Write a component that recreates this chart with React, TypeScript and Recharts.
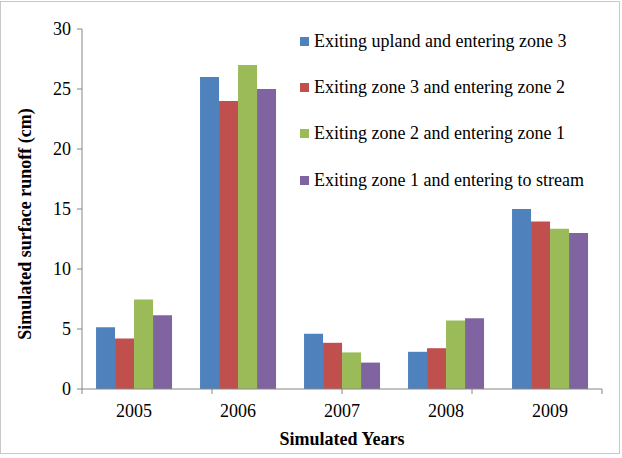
import React from 'react';
import { Bar, BarChart, XAxis, YAxis } from 'recharts';

const YEARS = ['2005', '2006', '2007', '2008', '2009'];
const UPLAND_TO_ZONE3 = [5.15, 26, 4.6, 3.1, 15];
const ZONE3_TO_ZONE2 = [4.2, 24, 3.85, 3.4, 13.95];
const ZONE2_TO_ZONE1 = [7.45, 27, 3.05, 5.7, 13.35];
const ZONE1_TO_STREAM = [6.15, 25, 2.2, 5.9, 13];
const Y_TICKS = [0, 5, 10, 15, 20, 25, 30];
const BOUNDARY_TICKS = [0, 1, 2, 3, 4, 5];

const SERIES = [
  { key: 'upland', name: 'Exiting upland and entering zone 3', color: '#4f81bd', values: UPLAND_TO_ZONE3 },
  { key: 'zone3', name: 'Exiting zone 3 and entering zone 2', color: '#c0504d', values: ZONE3_TO_ZONE2 },
  { key: 'zone2', name: 'Exiting zone 2 and entering zone 1', color: '#9bbb59', values: ZONE2_TO_ZONE1 },
  { key: 'zone1', name: 'Exiting zone 1 and entering to stream', color: '#8064a2', values: ZONE1_TO_STREAM },
];

const data = YEARS.map((year, i) => {
  const row: Record<string, string | number> = { year };
  SERIES.forEach((s) => {
    row[s.key] = s.values[i];
  });
  return row;
});

const FONT = '"Liberation Serif", "Times New Roman", serif';
const AXIS = '#868686';

function LegendBox() {
  return (
    <div
      style={{
        position: 'absolute',
        left: 300,
        top: 18,
        fontFamily: FONT,
        fontSize: 18,
        color: '#000',
      }}
    >
      {SERIES.map((s) => (
        <div
          key={s.key}
          style={{ display: 'flex', alignItems: 'center', height: 46.4, whiteSpace: 'nowrap' }}
        >
          <span
            style={{ display: 'inline-block', width: 9, height: 9, background: s.color, marginRight: 5 }}
          />
          {s.name}
        </div>
      ))}
    </div>
  );
}

export default function App() {
  return (
    <div
      style={{
        position: 'absolute',
        left: 0,
        top: 0,
        width: 622,
        height: 458,
        background: '#fff',
        fontFamily: FONT,
      }}
    >
      <div
        style={{
          position: 'absolute',
          left: 0,
          top: 1,
          width: 618,
          height: 451,
          border: '1px solid #c8c8c8',
        }}
      />
      <BarChart
        width={622}
        height={458}
        data={data}
        margin={{ top: 29, right: 20, bottom: 29, left: 32 }}
        barCategoryGap="13.5%"
        barGap={0}
        style={{ position: 'absolute', left: 0, top: 0, fontFamily: FONT }}
      >
        {/* boundary ticks between the years, like the Excel original */}
        <XAxis
          xAxisId="a"
          type="number"
          domain={[0, 5]}
          ticks={BOUNDARY_TICKS}
          interval={0}
          tickFormatter={() => ''}
          height={1}
          tickSize={5}
          axisLine={{ stroke: AXIS }}
          tickLine={{ stroke: AXIS }}
        />
        <XAxis
          xAxisId="b"
          dataKey="year"
          height={39}
          axisLine={false}
          tickLine={false}
          tickSize={5}
          tickMargin={9}
          tick={{ fill: '#000', fontSize: 18, fontFamily: FONT }}
          label={{
            content: ({ viewBox }: any) => (
              <text
                x={viewBox.x + viewBox.width / 2}
                y={445}
                textAnchor="middle"
                fontFamily={FONT}
                fontSize={18}
                fontWeight="bold"
                fill="#000"
              >
                Simulated Years
              </text>
            ),
          }}
        />
        <YAxis
          domain={[0, 30]}
          ticks={Y_TICKS}
          width={50}
          tickSize={5}
          tickMargin={6}
          axisLine={{ stroke: AXIS }}
          tickLine={{ stroke: AXIS }}
          tick={{ fill: '#000', fontSize: 18, fontFamily: FONT }}
          label={{
            content: ({ viewBox }: any) => {
              const cx = 31;
              const cy = viewBox.y + viewBox.height / 2 + 15;
              return (
                <text
                  x={cx}
                  y={cy}
                  transform={`rotate(-90 ${cx} ${cy})`}
                  textAnchor="middle"
                  fontFamily={FONT}
                  fontSize={18}
                  fontWeight="bold"
                  fill="#000"
                >
                  Simulated surface runoff (cm)
                </text>
              );
            },
          }}
        />
        {SERIES.map((s) => (
          <Bar
            key={s.key}
            xAxisId="b"
            dataKey={s.key}
            name={s.name}
            fill={s.color}
            isAnimationActive={false}
          />
        ))}
      </BarChart>
      <LegendBox />
    </div>
  );
}
